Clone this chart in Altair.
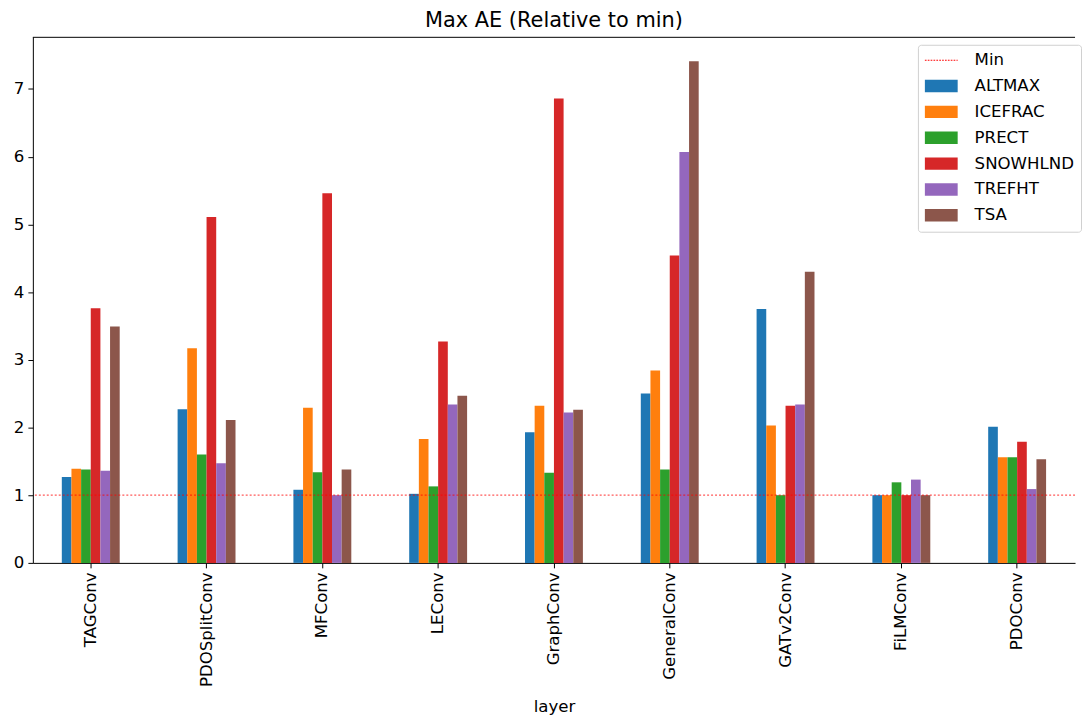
import altair as alt
import pandas as pd

layers = ["TAGConv", "PDOSplitConv", "MFConv", "LEConv", "GraphConv",
          "GeneralConv", "GATv2Conv", "FiLMConv", "PDOConv"]
series = ["ALTMAX", "ICEFRAC", "PRECT", "SNOWHLND", "TREFHT", "TSA"]
colors = ["#1f77b4", "#ff7f0e", "#2ca02c", "#d62728", "#9467bd", "#8c564b"]

altmax   = [1.27, 2.27, 1.08, 1.02, 1.93, 2.50, 3.75, 1.00, 2.01]
icefrac  = [1.39, 3.17, 2.29, 1.83, 2.32, 2.84, 2.03, 1.00, 1.56]
prect    = [1.38, 1.60, 1.34, 1.13, 1.33, 1.38, 1.00, 1.19, 1.56]
snowhlnd = [3.76, 5.11, 5.46, 3.27, 6.86, 4.54, 2.32, 1.00, 1.79]
trefht   = [1.36, 1.47, 1.00, 2.34, 2.22, 6.07, 2.34, 1.23, 1.09]
tsa      = [3.49, 2.11, 1.38, 2.47, 2.26, 7.41, 4.30, 1.00, 1.53]
min_value = [1.0]

values = [altmax, icefrac, prect, snowhlnd, trefht, tsa]
rows = []
for s, vals in zip(series, values):
    for l, v in zip(layers, vals):
        rows.append({"layer": l, "series": s, "value": v})
df = pd.DataFrame(rows)
min_df = pd.DataFrame({"series": ["Min"], "value": min_value})
frame_df = pd.DataFrame({"edge": ["top"]})

FONT = "DejaVu Sans"
W, H = 1048, 529
legend_domain = ["Min"] + series
color_scale = alt.Scale(domain=legend_domain, range=["#ff0000"] + colors)
y_scale = alt.Scale(domain=[0, 7.77], nice=False, zero=True)

# legend symbol shapes (symbol box is 17px; paths extend to the right)
XR = 2.88
dash_parts = []
x0 = -1.0
while x0 < XR:
    x1 = min(x0 + 0.2, XR)
    dash_parts.append(f"M{x0:.3f},-0.06H{x1:.3f}V0.06H{x0:.3f}Z")
    x0 += 0.34
dash_path = " ".join(dash_parts)
rect_path = f"M-1,-0.735H{XR}V0.735H-1Z"
shape_scale = alt.Scale(domain=legend_domain, range=[dash_path] + [rect_path] * len(series))

legend = alt.Legend(
    title=None,
    orient="none",
    legendX=890,
    legendY=8,
    labelFont=FONT,
    labelFontSize=16.7,
    labelColor="#000000",
    labelOffset=33,
    rowPadding=8,
    padding=7,
    symbolSize=289,
    symbolStrokeWidth=0,
    strokeColor="#d0d0d0",
    fillColor="#ffffff",
    cornerRadius=3,
)

bars = alt.Chart(df).mark_bar().encode(
    x=alt.X("layer:N", sort=layers,
            scale=alt.Scale(paddingInner=0.5, paddingOuter=0.25),
            axis=alt.Axis(title="layer", labelAngle=-90)),
    xOffset=alt.XOffset("series:N", sort=series,
                        scale=alt.Scale(paddingInner=0, paddingOuter=0)),
    y=alt.Y("value:Q", scale=y_scale,
            axis=alt.Axis(title=None, values=[0, 1, 2, 3, 4, 5, 6, 7], format="d")),
    color=alt.Color("series:N", scale=color_scale, legend=legend),
)

legend_keys = alt.Chart(df).transform_filter("false").mark_point(filled=True, opacity=1).encode(
    color=alt.Color("series:N", scale=color_scale, legend=legend),
    shape=alt.Shape("series:N", scale=shape_scale, legend=legend),
)

rule = alt.Chart(min_df).mark_rule(strokeDash=[2, 2], strokeWidth=1.2).encode(
    y=alt.Y("value:Q", scale=y_scale),
    color=alt.value("#ff0000"),
    opacity=alt.value(0.65),
)

top_spine = alt.Chart(frame_df).mark_rule(strokeWidth=1).encode(
    x=alt.value(0), x2=alt.value(W), y=alt.value(0.5),
    color=alt.value("#000000"),
)

chart = alt.layer(bars, rule, top_spine, legend_keys).properties(
    width=W,
    height=H,
    title=alt.Title("Max AE (Relative to min)", font=FONT, fontSize=21,
                    fontWeight="normal", color="#000000", offset=4, dy=-2),
    padding={"left": 5, "top": 0, "right": 0, "bottom": 0},
).configure_view(
    stroke=None
).configure_axis(
    domain=True,
    domainColor="#000000",
    domainWidth=1,
    grid=False,
    labelFont=FONT,
    labelFontSize=16.7,
    labelColor="#000000",
    tickColor="#000000",
    tickSize=5,
    tickWidth=1,
    labelPadding=4,
    titleFont=FONT,
    titleFontSize=16.7,
    titleFontWeight="normal",
    titleColor="#000000",
    titlePadding=12,
)

chart.save("out.html", embed_options={"renderer": "svg", "actions": False})
